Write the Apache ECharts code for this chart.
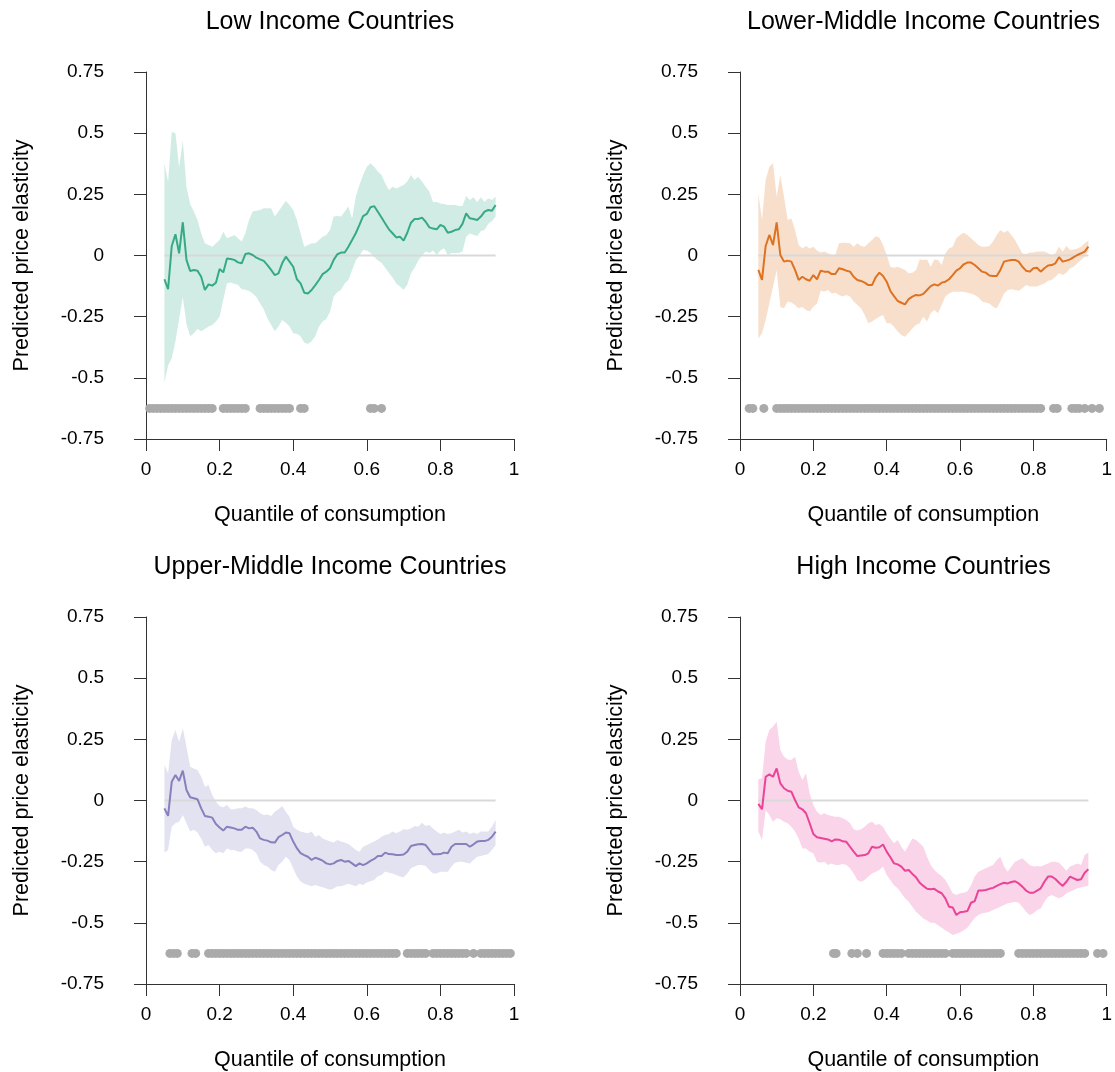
<!DOCTYPE html>
<html>
<head>
<meta charset="utf-8">
<script src="https://cdn.jsdelivr.net/npm/echarts@6/dist/echarts.min.js"></script>
<style>html,body{margin:0;padding:0;background:#fff}#c{width:1115px;height:1072px}</style>
</head>
<body>
<div id="c"></div>
<script>
const titles = ['Low Income Countries','Lower-Middle Income Countries','Upper-Middle Income Countries','High Income Countries'];
const xTicks = [0,0.2,0.4,0.6,0.8,1];
const yTicks = [-0.75,-0.5,-0.25,0,0.25,0.5,0.75];
const xName = 'Quantile of consumption';
const yName = 'Predicted price elasticity';
const rugLevel = -0.625;

const quantiles = [0.05,0.06,0.07,0.08,0.09,0.10,0.11,0.12,0.13,0.14,
0.15,0.16,0.17,0.18,0.19,0.20,0.21,0.22,0.23,0.24,
0.25,0.26,0.27,0.28,0.29,0.30,0.31,0.32,0.33,0.34,
0.35,0.36,0.37,0.38,0.39,0.40,0.41,0.42,0.43,0.44,
0.45,0.46,0.47,0.48,0.49,0.50,0.51,0.52,0.53,0.54,
0.55,0.56,0.57,0.58,0.59,0.60,0.61,0.62,0.63,0.64,
0.65,0.66,0.67,0.68,0.69,0.70,0.71,0.72,0.73,0.74,
0.75,0.76,0.77,0.78,0.79,0.80,0.81,0.82,0.83,0.84,
0.85,0.86,0.87,0.88,0.89,0.90,0.91,0.92,0.93,0.94,0.95];

// Low income
const lowMean = [-0.097,-0.138,0.039,0.087,0.009,0.136,-0.018,-0.063,-0.059,-0.062,
-0.087,-0.141,-0.118,-0.123,-0.111,-0.055,-0.069,-0.012,-0.014,-0.018,
-0.028,-0.032,0.006,0.009,0.002,-0.009,-0.016,-0.022,-0.039,-0.059,
-0.080,-0.073,-0.032,-0.005,-0.025,-0.046,-0.097,-0.114,-0.152,-0.155,
-0.141,-0.121,-0.100,-0.076,-0.066,-0.052,-0.018,0.005,0.012,0.012,
0.036,0.063,0.091,0.125,0.161,0.170,0.197,0.202,0.179,0.155,
0.131,0.107,0.091,0.074,0.077,0.061,0.093,0.134,0.149,0.149,
0.155,0.138,0.115,0.110,0.107,0.125,0.118,0.093,0.097,0.104,
0.107,0.129,0.172,0.152,0.149,0.145,0.159,0.179,0.186,0.183,0.206];
const lowUpper = [0.377,0.30,0.506,0.50,0.36,0.47,0.28,0.21,0.18,0.145,
0.09,0.05,0.043,0.036,0.05,0.063,0.097,0.07,0.077,0.084,
0.07,0.057,0.091,0.145,0.18,0.183,0.186,0.193,0.193,0.193,
0.159,0.18,0.202,0.223,0.206,0.186,0.145,0.091,0.036,0.043,
0.05,0.05,0.063,0.077,0.084,0.104,0.159,0.161,0.159,0.18,
0.20,0.15,0.24,0.288,0.329,0.363,0.377,0.363,0.343,0.329,
0.295,0.268,0.281,0.274,0.281,0.288,0.302,0.329,0.309,0.322,
0.302,0.281,0.261,0.219,0.219,0.213,0.21,0.206,0.206,0.206,
0.202,0.202,0.243,0.227,0.238,0.219,0.238,0.219,0.234,0.227,0.24];
const lowLower = [-0.52,-0.45,-0.42,-0.35,-0.26,-0.17,-0.28,-0.33,-0.318,-0.30,
-0.31,-0.30,-0.29,-0.284,-0.27,-0.25,-0.18,-0.114,-0.11,-0.115,
-0.12,-0.138,-0.14,-0.145,-0.155,-0.17,-0.196,-0.22,-0.256,-0.283,
-0.31,-0.29,-0.264,-0.275,-0.29,-0.318,-0.32,-0.33,-0.356,-0.362,
-0.35,-0.33,-0.29,-0.27,-0.26,-0.23,-0.168,-0.15,-0.14,-0.114,
-0.10,-0.06,-0.02,0.00,0.022,0.02,0.01,-0.005,-0.02,-0.03,
-0.05,-0.07,-0.09,-0.114,-0.127,-0.14,-0.12,-0.073,-0.05,-0.02,
0.00,0.016,0.01,0.02,0.002,0.02,0.03,0.002,0.01,0.01,
0.01,0.016,0.077,0.09,0.085,0.08,0.10,0.104,0.13,0.14,0.159];
const lowRug = [0.01,0.02,0.03,0.04,0.05,0.06,0.07,0.08,0.09,0.10,0.11,0.12,0.13,0.14,0.15,0.16,0.17,0.18,
0.21,0.22,0.23,0.24,0.25,0.26,0.27,0.31,0.32,0.33,0.34,0.35,0.36,0.37,0.38,0.39,0.42,0.43,0.61,0.62,0.64];

// Lower-middle income
const lmMean = [-0.059,-0.10,0.039,0.084,0.043,0.135,0.002,-0.025,-0.021,-0.025,
-0.059,-0.10,-0.087,-0.097,-0.103,-0.08,-0.097,-0.062,-0.066,-0.066,
-0.076,-0.076,-0.052,-0.056,-0.062,-0.066,-0.087,-0.10,-0.104,-0.111,
-0.121,-0.121,-0.089,-0.07,-0.084,-0.107,-0.145,-0.166,-0.186,-0.193,
-0.20,-0.178,-0.168,-0.161,-0.163,-0.157,-0.141,-0.125,-0.118,-0.123,
-0.111,-0.107,-0.097,-0.08,-0.062,-0.052,-0.036,-0.029,-0.029,-0.039,
-0.052,-0.066,-0.07,-0.082,-0.084,-0.084,-0.059,-0.025,-0.021,-0.018,
-0.018,-0.025,-0.046,-0.062,-0.066,-0.052,-0.05,-0.066,-0.052,-0.041,
-0.039,-0.032,-0.007,-0.025,-0.021,-0.016,-0.007,0.002,0.009,0.016,0.036];
const lmUpper = [0.254,0.145,0.31,0.363,0.377,0.24,0.329,0.24,0.145,0.151,
0.104,0.043,0.029,0.039,0.029,0.036,0.02,0.012,0.016,0.009,
0.002,0.002,0.05,0.052,0.052,0.05,0.036,0.05,0.039,0.036,
0.05,0.063,0.079,0.074,0.043,0.002,-0.046,-0.05,-0.046,-0.052,
-0.059,-0.073,-0.07,-0.059,-0.016,-0.018,-0.016,-0.046,-0.016,-0.018,
-0.039,0.009,0.029,0.036,0.07,0.084,0.093,0.084,0.07,0.057,
0.043,0.036,0.036,0.039,0.057,0.084,0.104,0.093,0.102,0.084,
0.063,0.036,0.009,0.006,0.012,0.012,0.016,0.016,0.016,0.009,
0.002,0.009,0.036,0.016,0.039,0.022,0.025,0.029,0.036,0.05,0.061];
const lmLower = [-0.339,-0.318,-0.264,-0.196,-0.127,-0.06,-0.21,-0.216,-0.188,-0.192,
-0.202,-0.216,-0.21,-0.223,-0.229,-0.209,-0.196,-0.144,-0.147,-0.141,
-0.155,-0.152,-0.161,-0.168,-0.161,-0.168,-0.188,-0.202,-0.216,-0.243,
-0.277,-0.27,-0.26,-0.25,-0.243,-0.277,-0.277,-0.291,-0.311,-0.325,
-0.332,-0.316,-0.298,-0.284,-0.277,-0.25,-0.27,-0.236,-0.223,-0.236,
-0.202,-0.168,-0.155,-0.148,-0.148,-0.148,-0.148,-0.152,-0.155,-0.161,
-0.171,-0.188,-0.192,-0.196,-0.209,-0.216,-0.188,-0.155,-0.141,-0.138,
-0.141,-0.144,-0.134,-0.121,-0.127,-0.127,-0.127,-0.121,-0.114,-0.103,
-0.10,-0.087,-0.073,-0.08,-0.07,-0.052,-0.046,-0.032,-0.018,-0.005,0.016];
const lmRug = [0.025,0.035,0.065,0.10,0.11,0.12,0.13,0.14,0.15,0.16,0.17,0.18,0.19,0.20,
0.21,0.22,0.23,0.24,0.25,0.26,0.27,0.28,0.29,0.30,0.31,0.32,0.33,0.34,0.35,0.36,0.37,0.38,0.39,0.40,
0.41,0.42,0.43,0.44,0.45,0.46,0.47,0.48,0.49,0.50,0.51,0.52,0.53,0.54,0.55,0.56,0.57,0.58,0.59,0.60,
0.61,0.62,0.63,0.64,0.65,0.66,0.67,0.68,0.69,0.70,0.71,0.72,0.73,0.74,0.75,0.76,0.77,0.78,0.79,0.80,
0.81,0.82,0.855,0.865,0.905,0.915,0.925,0.94,0.96,0.98];

// Upper-middle income
const umMean = [-0.032,-0.063,0.077,0.104,0.08,0.122,0.043,0.013,0.009,0.005,
-0.032,-0.063,-0.066,-0.07,-0.096,-0.11,-0.123,-0.107,-0.11,-0.114,
-0.12,-0.12,-0.107,-0.114,-0.111,-0.127,-0.155,-0.161,-0.164,-0.171,
-0.172,-0.15,-0.141,-0.131,-0.134,-0.168,-0.195,-0.215,-0.223,-0.23,
-0.243,-0.234,-0.239,-0.246,-0.257,-0.261,-0.257,-0.247,-0.243,-0.25,
-0.247,-0.257,-0.268,-0.257,-0.264,-0.257,-0.247,-0.239,-0.227,-0.227,
-0.213,-0.219,-0.22,-0.223,-0.223,-0.221,-0.209,-0.186,-0.182,-0.179,
-0.178,-0.182,-0.202,-0.22,-0.22,-0.219,-0.213,-0.216,-0.189,-0.178,
-0.178,-0.178,-0.178,-0.189,-0.179,-0.168,-0.166,-0.166,-0.161,-0.148,-0.127];
const umUpper = [0.145,0.111,0.247,0.288,0.24,0.295,0.22,0.138,0.131,0.125,
0.097,0.056,0.063,0.022,-0.005,-0.022,-0.028,-0.018,-0.036,-0.036,
-0.032,-0.032,-0.025,-0.032,-0.032,-0.039,-0.052,-0.059,-0.057,-0.063,
-0.046,-0.036,-0.022,-0.046,-0.066,-0.107,-0.12,-0.127,-0.131,-0.134,
-0.127,-0.148,-0.141,-0.155,-0.161,-0.168,-0.172,-0.161,-0.168,-0.172,
-0.178,-0.189,-0.202,-0.209,-0.189,-0.182,-0.175,-0.168,-0.159,-0.148,
-0.141,-0.137,-0.127,-0.134,-0.127,-0.118,-0.12,-0.114,-0.104,-0.107,
-0.091,-0.104,-0.10,-0.114,-0.127,-0.137,-0.131,-0.137,-0.134,-0.127,
-0.12,-0.131,-0.127,-0.137,-0.131,-0.137,-0.127,-0.127,-0.127,-0.107,-0.08];
const umLower = [-0.213,-0.202,-0.107,-0.093,-0.087,-0.059,-0.093,-0.127,-0.12,-0.131,
-0.155,-0.189,-0.182,-0.202,-0.216,-0.209,-0.216,-0.196,-0.202,-0.202,
-0.209,-0.209,-0.196,-0.196,-0.202,-0.216,-0.25,-0.264,-0.27,-0.284,
-0.291,-0.264,-0.25,-0.23,-0.243,-0.277,-0.311,-0.33,-0.34,-0.345,
-0.35,-0.345,-0.35,-0.355,-0.36,-0.365,-0.36,-0.35,-0.35,-0.345,
-0.34,-0.345,-0.35,-0.34,-0.345,-0.335,-0.33,-0.325,-0.31,-0.305,
-0.29,-0.295,-0.298,-0.305,-0.311,-0.314,-0.298,-0.277,-0.27,-0.264,
-0.264,-0.268,-0.284,-0.298,-0.298,-0.291,-0.291,-0.291,-0.27,-0.254,
-0.25,-0.25,-0.254,-0.257,-0.243,-0.23,-0.227,-0.223,-0.219,-0.202,-0.182];
const umRug = [0.065,0.075,0.085,0.125,0.135,0.17,0.18,0.19,0.20,0.21,0.22,0.23,0.24,0.25,0.26,0.27,0.28,0.29,0.30,
0.31,0.32,0.33,0.34,0.35,0.36,0.37,0.38,0.39,0.40,0.41,0.42,0.43,0.44,0.45,0.46,0.47,0.48,0.49,0.50,
0.51,0.52,0.53,0.54,0.55,0.56,0.57,0.58,0.59,0.60,0.61,0.62,0.63,0.64,0.65,0.66,0.67,0.68,
0.71,0.72,0.73,0.74,0.75,0.76,0.78,0.79,0.80,0.81,0.82,0.83,0.84,0.85,0.86,0.87,0.89,
0.91,0.92,0.93,0.94,0.95,0.96,0.97,0.98,0.99];

// High income
const hiMean = [-0.014,-0.036,0.097,0.107,0.097,0.131,0.07,0.05,0.04,0.036,
0.002,-0.028,-0.036,-0.052,-0.093,-0.137,-0.15,-0.153,-0.156,-0.159,
-0.167,-0.159,-0.16,-0.167,-0.169,-0.189,-0.209,-0.227,-0.225,-0.223,
-0.216,-0.189,-0.193,-0.191,-0.18,-0.209,-0.232,-0.257,-0.261,-0.27,
-0.287,-0.284,-0.30,-0.314,-0.336,-0.349,-0.361,-0.363,-0.361,-0.372,
-0.379,-0.40,-0.434,-0.437,-0.468,-0.457,-0.455,-0.452,-0.418,-0.411,
-0.368,-0.368,-0.366,-0.361,-0.357,-0.349,-0.342,-0.336,-0.339,-0.333,
-0.33,-0.339,-0.352,-0.368,-0.377,-0.377,-0.368,-0.359,-0.332,-0.311,
-0.311,-0.321,-0.336,-0.349,-0.332,-0.311,-0.318,-0.325,-0.322,-0.295,-0.281];
const hiUpper = [0.087,0.091,0.24,0.288,0.302,0.322,0.206,0.179,0.168,0.166,
0.179,0.118,0.084,0.111,0.029,-0.018,-0.046,-0.059,-0.052,-0.059,
-0.063,-0.066,-0.066,-0.073,-0.08,-0.093,-0.118,-0.123,-0.118,-0.107,
-0.093,-0.087,-0.10,-0.096,-0.107,-0.134,-0.155,-0.175,-0.161,-0.189,
-0.209,-0.182,-0.155,-0.161,-0.175,-0.189,-0.23,-0.264,-0.284,-0.298,
-0.309,-0.325,-0.35,-0.379,-0.386,-0.379,-0.377,-0.372,-0.346,-0.311,
-0.291,-0.284,-0.277,-0.27,-0.264,-0.243,-0.23,-0.27,-0.291,-0.27,
-0.25,-0.243,-0.236,-0.25,-0.264,-0.27,-0.268,-0.27,-0.264,-0.257,
-0.25,-0.25,-0.254,-0.27,-0.287,-0.27,-0.264,-0.257,-0.264,-0.223,-0.213];
const hiLower = [-0.127,-0.161,-0.039,-0.059,-0.087,-0.073,-0.077,-0.087,-0.093,-0.107,
-0.127,-0.155,-0.196,-0.196,-0.209,-0.216,-0.25,-0.254,-0.25,-0.264,
-0.257,-0.264,-0.264,-0.26,-0.264,-0.277,-0.298,-0.325,-0.332,-0.325,
-0.311,-0.298,-0.291,-0.284,-0.27,-0.305,-0.325,-0.346,-0.359,-0.379,
-0.40,-0.414,-0.434,-0.455,-0.468,-0.482,-0.49,-0.50,-0.50,-0.51,
-0.52,-0.53,-0.54,-0.55,-0.545,-0.54,-0.53,-0.52,-0.50,-0.48,
-0.468,-0.461,-0.459,-0.455,-0.448,-0.441,-0.434,-0.427,-0.42,-0.418,
-0.414,-0.418,-0.434,-0.455,-0.468,-0.461,-0.448,-0.441,-0.414,-0.393,
-0.386,-0.393,-0.40,-0.393,-0.379,-0.372,-0.366,-0.359,-0.355,-0.352,-0.349];
const hiRug = [0.255,0.262,0.305,0.32,0.345,0.39,0.40,0.41,0.42,0.43,0.44,
0.46,0.47,0.48,0.49,0.50,0.51,0.52,0.53,0.54,0.55,0.56,
0.58,0.59,0.60,0.61,0.62,0.63,0.64,0.65,0.66,0.67,0.68,0.69,0.70,0.71,
0.76,0.77,0.78,0.79,0.80,0.81,0.82,0.83,0.84,0.85,0.86,0.87,0.88,0.89,0.90,0.91,0.92,0.93,0.94,
0.975,0.99];

const colors = ['#1b9e77','#d95f02','#7570b3','#e7298a'];
const bands = ['rgba(27,158,119,0.2)','rgba(217,95,2,0.2)','rgba(117,112,179,0.2)','rgba(231,41,138,0.2)'];
const panels = [
  {mean: lowMean, upper: lowUpper, lower: lowLower, rug: lowRug},
  {mean: lmMean, upper: lmUpper, lower: lmLower, rug: lmRug},
  {mean: umMean, upper: umUpper, lower: umLower, rug: umRug},
  {mean: hiMean, upper: hiUpper, lower: hiLower, rug: hiRug}
];

const grids = [
  {left: 146, top: 72, width: 368, height: 367},
  {left: 740, top: 72, width: 367, height: 367},
  {left: 146, top: 617, width: 368, height: 367},
  {left: 740, top: 617, width: 367, height: 367}
];
const FONT = 'Liberation Sans, Arial, Helvetica, sans-serif';

const option = {
  animation: false,
  textStyle: {fontFamily: FONT},
  title: titles.map((t, i) => ({
    text: t,
    left: grids[i].left + grids[i].width / 2,
    top: grids[i].top - 62,
    padding: 0,
    textAlign: 'center',
    textStyle: {fontSize: 25, fontWeight: 'normal', color: '#000', fontFamily: FONT}
  })),
  grid: grids,
  xAxis: grids.map((g, i) => ({
    type: 'value', gridIndex: i,
    min: xTicks[0], max: xTicks[xTicks.length - 1], interval: xTicks[1] - xTicks[0],
    name: xName, nameLocation: 'middle', nameGap: 65,
    nameTextStyle: {fontSize: 21.5, color: '#000', fontFamily: FONT},
    axisLine: {show: true, onZero: false, lineStyle: {color: '#333', width: 1}},
    axisTick: {show: true, length: 12, lineStyle: {color: '#333'}},
    axisLabel: {fontSize: 19, color: '#000', margin: 21, fontFamily: FONT},
    splitLine: {show: false}
  })),
  yAxis: grids.map((g, i) => ({
    type: 'value', gridIndex: i,
    min: yTicks[0], max: yTicks[yTicks.length - 1], interval: yTicks[1] - yTicks[0],
    name: yName, nameLocation: 'middle', nameGap: 113,
    nameTextStyle: {fontSize: 21.5, color: '#000', fontFamily: FONT},
    axisLine: {show: true, onZero: false, lineStyle: {color: '#333', width: 1}},
    axisTick: {show: true, length: 12, lineStyle: {color: '#333'}},
    axisLabel: {fontSize: 19, color: '#000', margin: 42, fontFamily: FONT},
    splitLine: {show: false}
  })),
  series: []
};

panels.forEach((p, i) => {
  option.series.push({
    type: 'custom', xAxisIndex: i, yAxisIndex: i,
    data: quantiles.map((q, k) => [q, p.lower[k], p.upper[k]]),
    encode: {x: 0, y: [1, 2]},
    renderItem: function (params, api) {
      if (params.dataIndex !== 0) return null;
      const pts = [];
      for (let k = 0; k < quantiles.length; k++) pts.push(api.coord([quantiles[k], p.upper[k]]));
      for (let k = quantiles.length - 1; k >= 0; k--) pts.push(api.coord([quantiles[k], p.lower[k]]));
      return {type: 'polygon', shape: {points: pts}, style: {fill: bands[i], stroke: null}};
    },
    silent: true, z: 1
  });
  option.series.push({
    type: 'line', xAxisIndex: i, yAxisIndex: i,
    data: [[quantiles[0], 0], [quantiles[quantiles.length - 1], 0]],
    symbol: 'none', lineStyle: {color: '#d9d9d9', width: 2}, silent: true, z: 2
  });
  option.series.push({
    type: 'line', xAxisIndex: i, yAxisIndex: i,
    data: quantiles.map((q, k) => [q, p.mean[k]]),
    symbol: 'none', lineStyle: {color: colors[i], width: 2, opacity: 0.85}, silent: true, z: 3
  });
  option.series.push({
    type: 'scatter', xAxisIndex: i, yAxisIndex: i,
    data: p.rug.map(q => [q, rugLevel]),
    symbol: 'circle', symbolSize: 9, itemStyle: {color: '#aaaaaa', opacity: 1}, silent: true, z: 2
  });
});

const chart = echarts.init(document.getElementById('c'), null, {renderer: 'canvas'});
chart.setOption(option);
</script>
</body>
</html>
